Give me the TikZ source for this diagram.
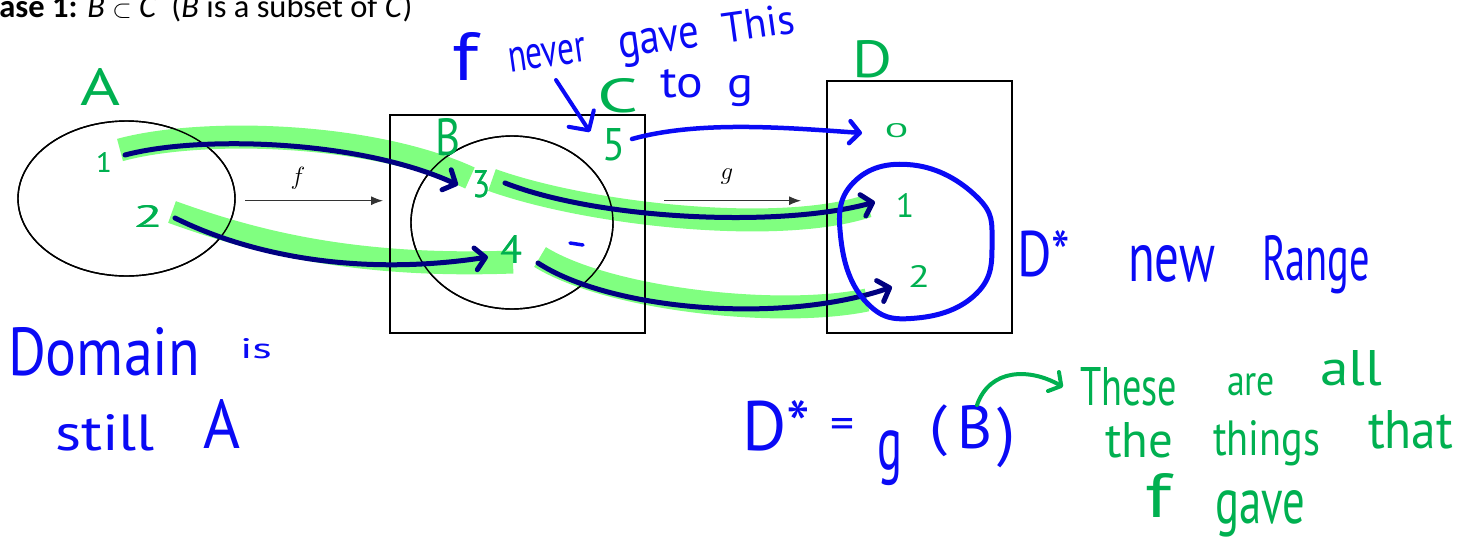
\documentclass[tikz,border=0pt]{standalone}
\usepackage{fontspec}
\setmainfont{Carlito}
\newfontfamily\hand{PT Sans}
\usetikzlibrary{arrows.meta,shapes.geometric}
\definecolor{ink}{RGB}{10,10,245}
\definecolor{gink}{RGB}{0,176,80}
\definecolor{hl}{RGB}{128,255,128}
\definecolor{navyink}{RGB}{0,0,128}
\begin{document}
\begin{tikzpicture}[x=1pt,y=-1pt,
  hb/.style={inner sep=0pt, outer sep=0pt, anchor=base west, text=ink, font=\hand},
  hg/.style={inner sep=0pt, outer sep=0pt, anchor=base west, text=gink, font=\hand},
  frame/.style={draw=black, line width=1.4pt, inner sep=0pt, outer sep=0pt},
  maparrow/.style={draw=black!80, line width=1pt, -{Latex[length=12pt,width=9pt]}},
  hilite/.style={draw=hl, line width=23pt, line cap=butt},
  navyarrow/.style={draw=navyink, line width=5pt, line cap=round, -{Straight Barb[length=10pt,width=22pt,line cap=round,line join=round]}},
  bluearrow/.style={draw=ink, line width=4.5pt, line cap=round, -{Straight Barb[length=10pt,width=22pt,line cap=round,line join=round]}},
  greenarrow/.style={draw=gink, line width=4pt, line cap=round, -{Straight Barb[length=9pt,width=22pt,line cap=round,line join=round]}}
]
\useasboundingbox (0,0) rectangle (1473,547);
\clip (0,0) rectangle (1473,547);

% title
\node[anchor=base west, inner sep=0pt, font=\fontsize{32.5}{38}\selectfont] (title) at (-18,17)
  {\textbf{Case 1:} \textit{B} $\subset$ \textit{C} \ (\textit{B} is a subset of \textit{C})};

% sets and boxes
\node[frame, draw, ellipse, minimum width=217pt, minimum height=155pt] (setA) at (126.5,198.5) {};
\node[frame, draw, rectangle, minimum width=255pt, minimum height=218pt] (boxC) at (517.5,224) {};
\node[frame, draw, ellipse, minimum width=202pt, minimum height=173pt] (setB) at (512,222.5) {};
\node[frame, draw, rectangle, minimum width=185pt, minimum height=252pt] (boxD) at (919.5,207) {};

% map arrows
\coordinate (fs) at (245,200.7);
\coordinate (fe) at (383,200.7);
\coordinate (gs) at (664,200.7);
\coordinate (ge) at (801,200.7);
\draw[maparrow] (fs) -- (fe);
\draw[maparrow] (gs) -- (ge);
\node[font=\fontsize{24}{28}\selectfont, inner sep=0pt] (flab) at (298,178) {$f$};
\node[font=\fontsize{24}{28}\selectfont, inner sep=0pt] (glab) at (727,177) {$g$};

% element labels (green)
\node[hg, anchor=base] (a1) at (104,172) {\resizebox{!}{20pt}{1}};
\node[hg] (a2) at (133,227) {\resizebox{30pt}{22pt}{2}};
\node[hg] (b3) at (472,197) {\resizebox{18pt}{27pt}{3}};
\node[hg] (b4) at (500,263) {\resizebox{22pt}{28pt}{4}};
\node[hg] (c5) at (602,160) {\resizebox{23pt}{32pt}{5}};
\node[hg] (d0) at (885,137) {\resizebox{23pt}{14pt}{0}};
\node[hg, anchor=base] (d1) at (905,217) {\resizebox{!}{24pt}{1}};
\node[hg] (d2) at (908,287) {\resizebox{22pt}{22pt}{2}};

% highlights
\draw[hilite] ([shift={(16,-22)}]a1.base) .. controls (200,128) and (370,132) .. ([shift={(-2,-19)}]b3.base west);
\draw[hilite] ([shift={(39,-15)}]a2.base west) .. controls (250,240) and (350,268) .. ([shift={(13,-1)}]b4.base west);
\draw[hilite] ([shift={(20,-17)}]b3.base west) .. controls (590,215) and (780,235) .. ([shift={(-37,-11)}]d1.base);
\draw[hilite] ([shift={(40,-6)}]b4.base west) .. controls (610,300) and (780,318) .. ([shift={(-41,13)}]d2.base west);

% redraw frames over highlight
\draw[line width=1.4pt] (setA.center) ellipse [x radius=108.5, y radius=77.5];
\draw[line width=1.4pt] (boxC.north west) rectangle (boxC.south east);
\draw[line width=1.4pt] (setB.center) ellipse [x radius=101, y radius=86.5];
\draw[line width=1.4pt] (boxD.north west) rectangle (boxD.south east);

% relabel on top
\node[hg, anchor=base] at (104,172) {\resizebox{!}{20pt}{1}};
\node[hg] at (133,227) {\resizebox{30pt}{22pt}{2}};
\node[hg] at (472,197) {\resizebox{18pt}{27pt}{3}};
\node[hg] at (500,263) {\resizebox{22pt}{28pt}{4}};

% navy mappings
\draw[navyarrow] ([shift={(21,-17)}]a1.base) .. controls (200,135) and (360,140) .. ([shift={(-14,-12)}]b3.base west);
\draw[navyarrow] ([shift={(42,-9)}]a2.base west) .. controls (260,260) and (370,275) .. ([shift={(-12,-6)}]b4.base west);
\draw[navyarrow] ([shift={(33,-14)}]b3.base west) .. controls (600,220) and (780,228) .. ([shift={(-30,-15)}]d1.base);
\draw[navyarrow] ([shift={(38,0)}]b4.base west) .. controls (610,310) and (780,325) .. ([shift={(-16,0)}]d2.base west);
\draw[bluearrow] ([shift={(30,-21)}]c5.base west) .. controls (700,120) and (790,128) .. ([shift={(-23,-4)}]d0.base west);

% set labels (green)
\node[hg] (labA) at (80,105) {\resizebox{40pt}{37pt}{A}};
\node[hg] (labB) at (435,155) {\resizebox{25pt}{37pt}{B}};
\node[hg] (labC) at (597,112) {\resizebox{41pt}{34pt}{C}};
\node[hg] (labD) at (852,77) {\resizebox{40pt}{37pt}{D}};

% D* circle
\draw[ink, line width=5pt, line join=round] plot[smooth cycle, tension=0.75] coordinates
  {(913,165) (977,197) (992,242) (977,293) (917,318) (867,303) (841,240) (853,183)};
\draw[ink, line width=3.5pt, line cap=round] (570,243) -- (583,245);

% blue notes
\node[hb] (wDomain) at (8,375) {\resizebox{192pt}{48pt}{Domain}};
\node[hb] (wis) at (240,358) {\resizebox{32pt}{20pt}{is}};
\node[hb] (wstill) at (55,450) {\resizebox{100pt}{36pt}{still}};
\node[hb] (wA) at (203,448) {\resizebox{37pt}{49pt}{A}};

\node[hb] (wf) at (452,80) {\resizebox{26pt}{48pt}{f}};
\node[hb, rotate=8] (wnever) at (510,72) {\resizebox{78pt}{24pt}{never}};
\node[hb, rotate=8] (wgave) at (620,58) {\resizebox{82pt}{25pt}{gave}};
\node[hb, rotate=8] (wThis) at (724,43) {\resizebox{73pt}{30pt}{This}};
\node[hb] (wto) at (660,97) {\resizebox{43pt}{28pt}{to}};
\node[hb] (wg) at (727,97) {\resizebox{26pt}{22pt}{g}};
\draw[bluearrow, line width=4pt, -{Straight Barb[length=14pt,width=30pt,line cap=round,line join=round]}] ([shift={(46,8)}]wnever.base west) -- ([shift={(-12,-28)}]c5.base west);

\node[hb] (wDs) at (1017,276) {\resizebox{53pt}{46pt}{D*}};
\node[hb] (wnew) at (1128,281) {\resizebox{87pt}{36pt}{new}};
\node[hb] (wRange) at (1262,280) {\resizebox{108pt}{45pt}{Range}};

\node[hb] (eDs) at (742,450) {\resizebox{68pt}{50pt}{D*}};
\node[hb] (eEq) at (830,438) {\resizebox{24pt}{20pt}{=}};
\node[hb, anchor=south west] (eg) at (877,486) {\resizebox*{25pt}{55pt}{g}};
\node[hb, anchor=south west] (elp) at (929,457) {\resizebox*{18pt}{52pt}{(}};
\node[hb] (eB) at (957,448) {\resizebox{35pt}{43pt}{B}};
\node[hb, anchor=south west] (erp) at (997,468) {\resizebox*{18pt}{61pt}{)}};

% green notes
\node[hg] (tThese) at (1080,405) {\resizebox{97pt}{38pt}{These}};
\node[hg] (tare) at (1227,395) {\resizebox{48pt}{22pt}{are}};
\node[hg] (tall) at (1320,385) {\resizebox{62pt}{35pt}{all}};
\node[hg] (tthe) at (1105,457) {\resizebox{68pt}{35pt}{the}};
\node[hg] (tthings) at (1213,455) {\resizebox{107pt}{35pt}{things}};
\node[hg] (tthat) at (1368,448) {\resizebox{85pt}{38pt}{that}};
\node[hg] (tf) at (1145,517) {\resizebox{26pt}{44pt}{f}};
\node[hg] (tgave) at (1215,523) {\resizebox{90pt}{33pt}{gave}};
\draw[greenarrow] ([shift={(20,-43)}]eB.base west) .. controls (990,368) and (1030,368) .. ([shift={(-17,-18)}]tThese.base west);
\end{tikzpicture}
\end{document}
